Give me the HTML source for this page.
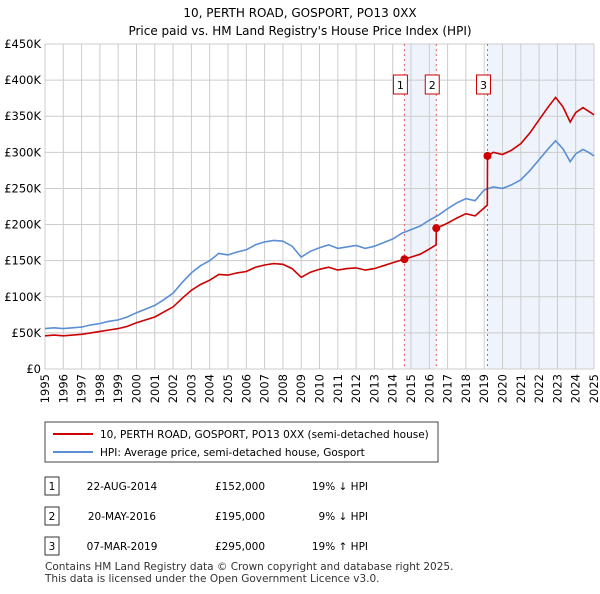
<!DOCTYPE html>
<html><head><meta charset="utf-8"><style>
body{margin:0;background:#fff;font-family:"DejaVu Sans","Liberation Sans",sans-serif;}
svg text{font-family:"DejaVu Sans","Liberation Sans",sans-serif;}
</style></head><body>
<svg id="c" width="600" height="590" viewBox="0 0 600 590">
<text x="300" y="17" text-anchor="middle" font-size="12">10, PERTH ROAD, GOSPORT, PO13 0XX</text>
<text x="300" y="35" text-anchor="middle" font-size="12">Price paid vs. HM Land Registry's House Price Index (HPI)</text>
<g id="plot"></g>
<g>
<rect x="45" y="422" width="393" height="40" fill="#fff" stroke="#444"/>
<line x1="53" y1="434" x2="93" y2="434" stroke="#cc0000" stroke-width="2"/>
<text x="100" y="438" font-size="10.5">10, PERTH ROAD, GOSPORT, PO13 0XX (semi-detached house)</text>
<line x1="53" y1="452" x2="93" y2="452" stroke="#5b8fd4" stroke-width="2"/>
<text x="100" y="456" font-size="10.5">HPI: Average price, semi-detached house, Gosport</text>
</g>
<g id="tbl" font-size="10.5"></g>
<text x="45" y="570" font-size="10.5" fill="#333">Contains HM Land Registry data © Crown copyright and database right 2025.</text>
<text x="45" y="582" font-size="10.5" fill="#333">This data is licensed under the Open Government Licence v3.0.</text>
</svg>
<script>
const hpiYears=[1995,1995.5,1996,1996.5,1997,1997.5,1998,1998.5,1999,1999.5,2000,2000.5,2001,2001.5,2002,2002.5,2003,2003.5,2004,2004.5,2005,2005.5,2006,2006.5,2007,2007.5,2008,2008.5,2009,2009.5,2010,2010.5,2011,2011.5,2012,2012.5,2013,2013.5,2014,2014.5,2015,2015.5,2016,2016.5,2017,2017.5,2018,2018.5,2019,2019.5,2020,2020.5,2021,2021.5,2022,2022.5,2022.9,2023.3,2023.7,2024,2024.4,2024.7,2025];
const hpiValues=[56,57,56,57,58,61,63,66,68,72,78,83,88,96,105,120,133,143,150,160,158,162,165,172,176,178,177,170,155,163,168,172,167,169,171,167,170,175,180,188,193,198,206,213,222,230,236,233,248,252,250,255,262,275,290,305,316,305,287,298,304,300,295];
const priceYears=[1995,1995.5,1996,1996.5,1997,1997.5,1998,1998.5,1999,1999.5,2000,2000.5,2001,2001.5,2002,2002.5,2003,2003.5,2004,2004.5,2005,2005.5,2006,2006.5,2007,2007.5,2008,2008.5,2009,2009.5,2010,2010.5,2011,2011.5,2012,2012.5,2013,2013.5,2014,2014.5,2014.64,2015,2015.5,2016,2016.37,2016.38,2016.5,2017,2017.5,2018,2018.5,2019.17,2019.18,2019.5,2020,2020.5,2021,2021.5,2022,2022.5,2022.9,2023.3,2023.7,2024,2024.4,2024.7,2025];
const priceValues=[46,47,46,47,48,50,52,54,56,59,64,68,72,79,86,98,109,117,123,131,130,133,135,141,144,146,145,139,127,134,138,141,137,139,140,137,139,143,147,151,152,155,159,166,172,195,196,202,209,215,212,227,295,300,297,303,312,327,345,363,376,363,342,355,362,357,352];
const saleYears=[2014.64,2016.38,2019.18];
const saleValues=[152,195,295];
const saleLabels=["1","2","3"];
const saleDates=["22-AUG-2014","20-MAY-2016","07-MAR-2019"];
const salePrices=["£152,000","£195,000","£295,000"];
const saleHpi=["19% ↓ HPI","9% ↓ HPI","19% ↑ HPI"];
const yTicks=[0,50,100,150,200,250,300,350,400,450];
const yTickLabels=["£0","£50K","£100K","£150K","£200K","£250K","£300K","£350K","£400K","£450K"];
const xTicks=[1995,1996,1997,1998,1999,2000,2001,2002,2003,2004,2005,2006,2007,2008,2009,2010,2011,2012,2013,2014,2015,2016,2017,2018,2019,2020,2021,2022,2023,2024,2025];

const NS="http://www.w3.org/2000/svg";
const X0=45,X1=594,Y0=369,Y1=44;
const xs=y=>X0+(y-1995)/30*(X1-X0);
const ys=v=>Y0-v/450*(Y0-Y1);
const plot=document.getElementById('plot');
function mk(tag,attrs,parent,txt){const e=document.createElementNS(NS,tag);for(const k in attrs)e.setAttribute(k,attrs[k]);if(txt!==undefined)e.textContent=txt;(parent||plot).appendChild(e);return e;}
let s1=mk('rect',{x:xs(saleYears[0]),y:Y1,width:xs(saleYears[1])-xs(saleYears[0]),height:Y0-Y1,fill:'#eef3fc'});


let s2=mk('rect',{x:xs(saleYears[2]),y:Y1,width:X1-xs(saleYears[2]),height:Y0-Y1,fill:'#eef3fc'});


yTicks.forEach((t,i)=>{
 let l=mk('line',{x1:X0,x2:X1,y1:ys(t),y2:ys(t),stroke:'#cccccc'});
 
 
 let tx=mk('text',{x:X0-4,y:ys(t)+4,'text-anchor':'end','font-size':'11.5'},plot,yTickLabels[i]);
 
 
});
xTicks.forEach(t=>{
 let l=mk('line',{x1:xs(t),x2:xs(t),y1:Y1,y2:Y0,stroke:'#cccccc'});
 
 
 const px=(xs(t)+4).toFixed(1), py=374;
 let g=mk('g',{transform:'translate('+px+','+py+') rotate(-90)'});
 let tx=mk('text',{x:0,y:0,'text-anchor':'end','font-size':'11.5'},g,String(t));
 
 
});
saleYears.forEach((y,i)=>{
 let l=mk('line',{x1:xs(y),x2:xs(y),y1:Y1,y2:Y0,stroke:'#e06060','stroke-dasharray':'2,3'});
 
 
 let r=mk('rect',{x:xs(y)-11,y:75,width:14,height:19,fill:'#fff',stroke:'#cc0000'});
 
 
 let t=mk('text',{x:xs(y)-4,y:89,'text-anchor':'middle','font-size':'11'},plot,saleLabels[i]);
 
 
});
function line(xa,va,color,name){
 let d=xa.map((y,i)=>(i?'L':'M')+xs(y).toFixed(1)+','+ys(va[i]).toFixed(1)).join('');
 let p=mk('path',{d:d,fill:'none',stroke:color,'stroke-width':1.6});
 
 
}
line(hpiYears,hpiValues,'#5b8fd4','hpi-line');
line(priceYears,priceValues,'#cc0000','price-paid-line');
saleYears.forEach((y,i)=>{
 let c=mk('circle',{cx:xs(y),cy:ys(saleValues[i]),r:4,fill:'#cc0000'});
 
 
});
const tbl=document.getElementById('tbl');
saleLabels.forEach((lb,i)=>{
 const y=486+i*30;
 let r=mk('rect',{x:45,y:y-9,width:14,height:18,fill:'#fff',stroke:'#333'},tbl);
 
 
 let t=mk('text',{x:52,y:y+4,'text-anchor':'middle'},tbl,lb);
 
 
 let d=mk('text',{x:122,y:y+4,'text-anchor':'middle'},tbl,saleDates[i]);
 
 
 let p=mk('text',{x:240,y:y+4,'text-anchor':'middle'},tbl,salePrices[i]);
 
 
 let h=mk('text',{x:368,y:y+4,'text-anchor':'end'},tbl,saleHpi[i]);
 
 
});
</script>
</body></html>
